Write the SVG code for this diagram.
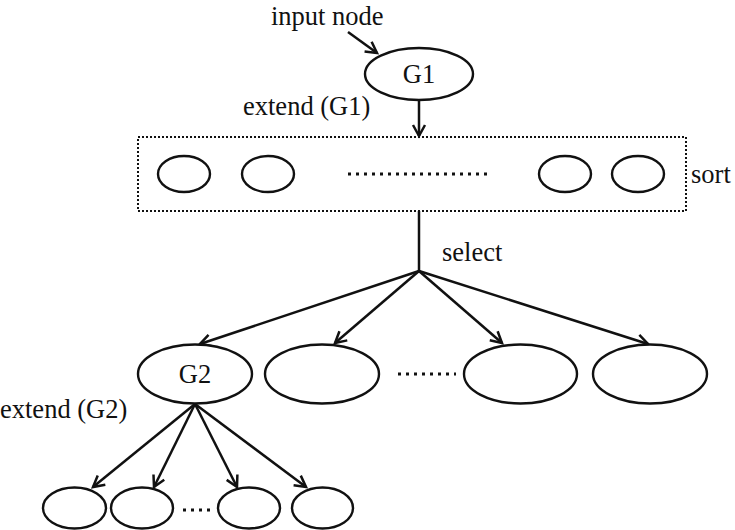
<svg xmlns="http://www.w3.org/2000/svg" width="735" height="530" viewBox="0 0 735 530">
<style>
  .n { fill: #fff; stroke: #111; stroke-width: 2.4; }
  .t { font-family: "Liberation Serif", "Times New Roman", serif; font-size: 26.5px; fill: #111; }
  .c { stroke: #111; stroke-width: 2.5; fill: none; }
  .a { marker-end: url(#arr); }
  .dots { stroke: #111; stroke-width: 3; stroke-dasharray: 3 5; fill: none; }
</style>
<defs>
  <marker id="arr" markerUnits="userSpaceOnUse" markerWidth="20" markerHeight="20" viewBox="-14 -10 16 20" refX="0" refY="0" orient="auto">
    <path d="M -11 -6 L 0 0 L -11 6" fill="none" stroke="#111" stroke-width="2.5" stroke-linejoin="miter"/>
  </marker>
</defs>

<rect x="138" y="137" width="548" height="74" fill="none" stroke="#111" stroke-width="2" stroke-dasharray="2 2"/>

<g id="connectors">
  <line class="c a" x1="348" y1="32" x2="377" y2="53"/>
  <line class="c a" x1="419" y1="100" x2="419" y2="136"/>
  <line class="c" x1="419" y1="211" x2="419" y2="271"/>
  <line class="c a" x1="419" y1="271" x2="200" y2="344"/>
  <line class="c a" x1="419" y1="271" x2="335" y2="343"/>
  <line class="c a" x1="419" y1="271" x2="502" y2="343"/>
  <line class="c a" x1="419" y1="271" x2="648" y2="344"/>
  <line class="c a" x1="195" y1="404" x2="93" y2="487"/>
  <line class="c a" x1="195" y1="404" x2="154" y2="487"/>
  <line class="c a" x1="195" y1="404" x2="237" y2="487"/>
  <line class="c a" x1="195" y1="404" x2="306" y2="487"/>
</g>

<g id="G1">
  <ellipse class="n" cx="419" cy="74" rx="54" ry="26"/>
  <text class="t" x="419" y="83" text-anchor="middle">G1</text>
</g>

<g id="sorted">
  <ellipse class="n" cx="184" cy="174" rx="26" ry="18"/>
  <ellipse class="n" cx="268" cy="174" rx="26" ry="18"/>
  <ellipse class="n" cx="565" cy="174" rx="26" ry="18"/>
  <ellipse class="n" cx="638" cy="174" rx="26" ry="18"/>
  <line class="dots" x1="348" y1="174" x2="492" y2="174"/>
</g>

<g id="G2">
  <ellipse class="n" cx="195" cy="374" rx="57" ry="29.5"/>
  <text class="t" x="195" y="383" text-anchor="middle">G2</text>
</g>
<g id="sel2"><ellipse class="n" cx="322" cy="374" rx="57" ry="29.5"/></g>
<g id="sel3"><ellipse class="n" cx="520.5" cy="374" rx="56.5" ry="29.5"/></g>
<g id="sel4"><ellipse class="n" cx="650" cy="374" rx="57" ry="29.5"/></g>
<line class="dots" x1="398" y1="374" x2="456" y2="374"/>

<g id="c1"><ellipse class="n" cx="74.5" cy="508" rx="31.5" ry="20.5"/></g>
<g id="c2"><ellipse class="n" cx="142" cy="508" rx="31" ry="20.5"/></g>
<g id="c3"><ellipse class="n" cx="249" cy="508" rx="31" ry="20.5"/></g>
<g id="c4"><ellipse class="n" cx="322.5" cy="508" rx="30.5" ry="20.5"/></g>
<line class="dots" x1="183" y1="510" x2="210" y2="510"/>

<g id="labels">
  <text class="t" x="271" y="25">input node</text>
  <text class="t" x="243" y="115">extend (G1)</text>
  <text class="t" x="691" y="183">sort</text>
  <text class="t" x="442" y="261">select</text>
  <text class="t" x="0" y="418">extend (G2)</text>
</g>
</svg>
